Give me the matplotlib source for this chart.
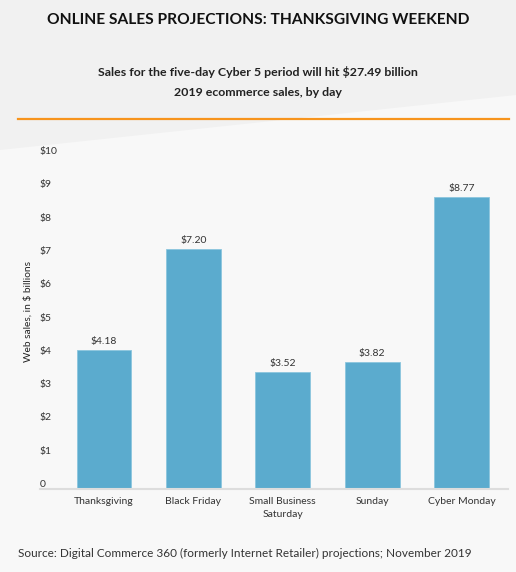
import numpy as np
import matplotlib.pyplot as plt
from matplotlib.patches import Polygon
from matplotlib.lines import Line2D

plt.rcParams['font.family'] = ['Lato', 'DejaVu Sans']

days = ['Thanksgiving', 'Black Friday', 'Small Business\nSaturday', 'Sunday', 'Cyber Monday']
sales = [4.18, 7.20, 3.52, 3.82, 8.77]
value_labels = ['$4.18', '$7.20', '$3.52', '$3.82', '$8.77']
y_ticks = [0, 1, 2, 3, 4, 5, 6, 7, 8, 9, 10]
y_tick_labels = ['0', '$1', '$2', '$3', '$4', '$5', '$6', '$7', '$8', '$9', '$10']

W, H = 516, 572
fig = plt.figure(figsize=(W / 100, H / 100), dpi=100)
fig.patch.set_facecolor('#f8f8f8')

# grey header band with slanted lower edge
band = Polygon([(0, 1), (1, 1), (1, 1 - 95 / H), (0, 1 - 150 / H)],
               closed=True, transform=fig.transFigure, facecolor='#f1f1f1',
               edgecolor='none', zorder=0)
fig.patches.append(band)

fig.text(0.5, 1 - 20 / H, 'ONLINE SALES PROJECTIONS: THANKSGIVING WEEKEND',
         ha='center', va='center', fontsize=11.2, fontweight='bold', color='#111111')
fig.text(0.5, 1 - 72 / H, 'Sales for the five-day Cyber 5 period will hit $27.49 billion',
         ha='center', va='center', fontsize=8.9, fontweight='bold', color='#222222')
fig.text(0.5, 1 - 93 / H, '2019 ecommerce sales, by day',
         ha='center', va='center', fontsize=8.9, fontweight='bold', color='#222222')

fig.lines.append(Line2D([18 / W, 509 / W], [1 - 119 / H, 1 - 119 / H],
                        transform=fig.transFigure, color='#f7941d', lw=1.6))

ax = fig.add_axes([40 / W, 1 - 489 / H, 468 / W, 333 / H])
ax.set_facecolor('none')
x = np.arange(len(days))
ax.bar(x, sales, width=0.615, color='#5babce', edgecolor='#8cc6de', linewidth=0.6, zorder=2)
for xi, v, lab in zip(x, sales, value_labels):
    ax.text(xi, v + 0.12, lab, ha='center', va='bottom', fontsize=7.5, color='#333333')

ax.set_xlim(-0.716, 4.52)
ax.set_ylim(0, 10)
ax.set_xticks(x)
ax.set_xticklabels(days, fontsize=7.5, color='#333333', linespacing=1.5)
ax.set_yticks(y_ticks)
ax.set_yticklabels(y_tick_labels, fontsize=7.5, color='#333333')
for lab in ax.get_yticklabels():
    lab.set_horizontalalignment('left')
    lab.set_verticalalignment('bottom')
ax.tick_params(axis='y', length=0, pad=0)
ax.tick_params(axis='x', length=0, pad=6)
for s in ['top', 'right', 'left']:
    ax.spines[s].set_visible(False)
ax.spines['bottom'].set_color('#dddddd')
ax.spines['bottom'].set_linewidth(1.5)

fig.text(28 / W, 1 - 311 / H, 'Web sales, in $ billions', rotation=90,
         ha='center', va='center', fontsize=7.3, color='#222222')

fig.text(18 / W, 1 - 553 / H,
         'Source: Digital Commerce 360 (formerly Internet Retailer) projections; November 2019',
         ha='left', va='center', fontsize=8.5, color='#333333')

fig.savefig('out.png', dpi=100, facecolor=fig.get_facecolor())
